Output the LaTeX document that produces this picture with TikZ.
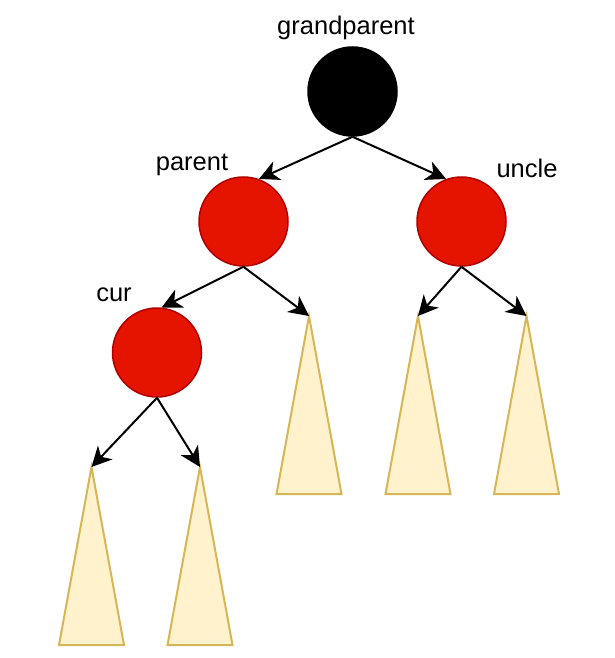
\documentclass[tikz,border=0pt]{standalone}
\usepackage{fontspec}
\setmainfont{Liberation Sans}
\usetikzlibrary{arrows.meta}
\definecolor{rbred}{HTML}{E51400}
\definecolor{rbredline}{HTML}{B20000}
\definecolor{treefill}{HTML}{FFF2CC}
\definecolor{treeline}{HTML}{D6B656}

\begin{document}
\begin{tikzpicture}[
        x=1pt, y=-1pt,
        blacknode/.style={circle, draw=black, fill=black, line width=1.5pt, minimum size=89pt, inner sep=0pt},
        rednode/.style={circle, draw=rbredline, fill=rbred, line width=1.5pt, minimum size=89pt, inner sep=0pt},
        subtree/.style={draw=treeline, fill=treefill, line width=2pt, line join=miter},
        link/.style={line width=2pt, arrows={-Stealth[length=20pt, width=20pt, inset=6pt]}},
        lbl/.style={font=\fontsize{25.5}{30}\selectfont, anchor=base}
    ]
    \useasboundingbox (0,0) rectangle (615,658);

    % Nodes
    \node[blacknode] (G) at (352.5, 91.5) {};
    \node[rednode] (P) at (243.5, 221.5) {};
    \node[rednode] (U) at (461.5, 221.5) {};
    \node[rednode] (C) at (157, 352.5) {};

    % Labels
    \node[lbl] (Glbl) at (346, 35) {grandparent};
    \node[lbl] (Plbl) at (192, 170) {parent};
    \node[lbl] (Ulbl) at (527, 177) {uncle};
    \node[lbl] (Clbl) at (114, 301) {cur};

    % Subtrees
    \foreach \n/\x/\y in {T1/309/316, T2/418/316, T3/526.5/316, T4/91.5/467, T5/200/467} {
        \coordinate (\n) at (\x, \y);
        \draw[subtree] (\n) -- ++(32.5, 178) -- ++(-65, 0) -- cycle;
    }

    % Edges
    \draw[link] (G.south) -- (P.70);
    \draw[link] (G.south) -- (U.110);
    \draw[link] (P.south) -- (C.84);
    \draw[link] (P.south) -- (T1);
    \draw[link] (U.south) -- (T2);
    \draw[link] (U.south) -- (T3);
    \draw[link] (C.south) -- (T4);
    \draw[link] (C.south) -- (T5);
\end{tikzpicture}
\end{document}
